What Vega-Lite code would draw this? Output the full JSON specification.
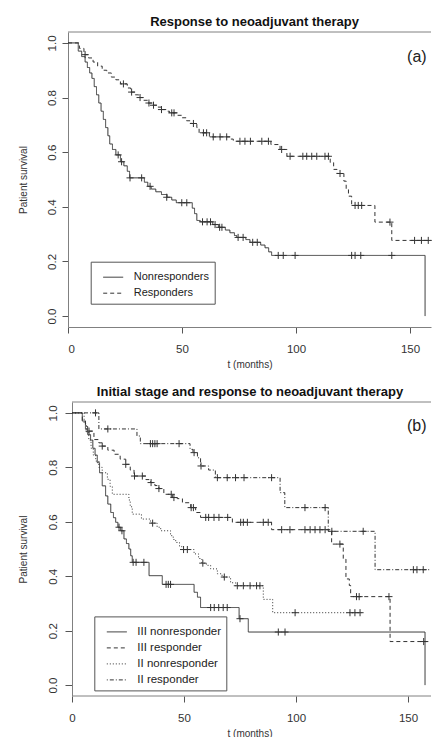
{
  "$schema": "https://vega.github.io/schema/vega-lite/v6.json",
  "background": "white",
  "padding": {"left": 17, "top": 16, "right": 0, "bottom": -2},
  "config": {
    "font": "Liberation Sans",
    "view": {"stroke": null},
    "axis": {"grid": false, "domain": true, "domainColor": "#808080", "domainWidth": 1, "tickColor": "#555", "tickSize": 6, "labelColor": "#333", "labelFontSize": 11.5, "titleFontSize": 10, "titleFontWeight": "normal", "titleColor": "#333"},
    "title": {"fontSize": 13, "fontWeight": "bold", "color": "#111", "anchor": "middle", "frame": "group", "baseline": "alphabetic", "offset": 4.5}
  },
  "align": "none",
  "spacing": 16,
  "resolve": {"scale": {"x": "independent", "y": "independent", "strokeDash": "independent"}, "legend": {"strokeDash": "independent"}},
  "datasets": {
    "topLines": [
      {"group": "Nonresponders", "t": 0, "s": 1},
      {"group": "Nonresponders", "t": 4.5, "s": 0.97},
      {"group": "Nonresponders", "t": 6, "s": 0.95},
      {"group": "Nonresponders", "t": 7.5, "s": 0.93},
      {"group": "Nonresponders", "t": 8.5, "s": 0.91},
      {"group": "Nonresponders", "t": 9.5, "s": 0.89},
      {"group": "Nonresponders", "t": 10.5, "s": 0.87},
      {"group": "Nonresponders", "t": 11.5, "s": 0.84},
      {"group": "Nonresponders", "t": 12.5, "s": 0.81},
      {"group": "Nonresponders", "t": 13.5, "s": 0.78},
      {"group": "Nonresponders", "t": 14.5, "s": 0.75},
      {"group": "Nonresponders", "t": 15.5, "s": 0.72},
      {"group": "Nonresponders", "t": 16.5, "s": 0.69},
      {"group": "Nonresponders", "t": 17.5, "s": 0.66},
      {"group": "Nonresponders", "t": 18.3, "s": 0.63},
      {"group": "Nonresponders", "t": 19.5, "s": 0.61},
      {"group": "Nonresponders", "t": 21, "s": 0.59},
      {"group": "Nonresponders", "t": 23, "s": 0.565},
      {"group": "Nonresponders", "t": 24.5, "s": 0.55},
      {"group": "Nonresponders", "t": 26, "s": 0.53},
      {"group": "Nonresponders", "t": 27, "s": 0.506},
      {"group": "Nonresponders", "t": 33.5, "s": 0.49},
      {"group": "Nonresponders", "t": 35, "s": 0.475},
      {"group": "Nonresponders", "t": 36.5, "s": 0.465},
      {"group": "Nonresponders", "t": 38.5, "s": 0.455},
      {"group": "Nonresponders", "t": 41, "s": 0.445},
      {"group": "Nonresponders", "t": 43.5, "s": 0.435},
      {"group": "Nonresponders", "t": 45.5, "s": 0.425},
      {"group": "Nonresponders", "t": 47.5, "s": 0.415},
      {"group": "Nonresponders", "t": 54.5, "s": 0.395},
      {"group": "Nonresponders", "t": 55.5, "s": 0.375},
      {"group": "Nonresponders", "t": 56.5, "s": 0.35},
      {"group": "Nonresponders", "t": 58, "s": 0.345},
      {"group": "Nonresponders", "t": 63.5, "s": 0.335},
      {"group": "Nonresponders", "t": 66, "s": 0.325},
      {"group": "Nonresponders", "t": 69, "s": 0.315},
      {"group": "Nonresponders", "t": 71, "s": 0.305},
      {"group": "Nonresponders", "t": 73, "s": 0.295},
      {"group": "Nonresponders", "t": 74, "s": 0.288},
      {"group": "Nonresponders", "t": 78, "s": 0.28},
      {"group": "Nonresponders", "t": 79.8, "s": 0.27},
      {"group": "Nonresponders", "t": 84.5, "s": 0.26},
      {"group": "Nonresponders", "t": 86.4, "s": 0.25},
      {"group": "Nonresponders", "t": 88, "s": 0.235},
      {"group": "Nonresponders", "t": 89.3, "s": 0.222},
      {"group": "Nonresponders", "t": 156.6, "s": 0},
      {"group": "Responders", "t": 0, "s": 1},
      {"group": "Responders", "t": 5, "s": 0.98},
      {"group": "Responders", "t": 7, "s": 0.957},
      {"group": "Responders", "t": 9, "s": 0.945},
      {"group": "Responders", "t": 11, "s": 0.93},
      {"group": "Responders", "t": 13, "s": 0.915},
      {"group": "Responders", "t": 15, "s": 0.9},
      {"group": "Responders", "t": 17, "s": 0.89},
      {"group": "Responders", "t": 19, "s": 0.875},
      {"group": "Responders", "t": 21, "s": 0.865},
      {"group": "Responders", "t": 23, "s": 0.85},
      {"group": "Responders", "t": 26, "s": 0.835},
      {"group": "Responders", "t": 27.5, "s": 0.82},
      {"group": "Responders", "t": 29.5, "s": 0.81},
      {"group": "Responders", "t": 31, "s": 0.8},
      {"group": "Responders", "t": 33, "s": 0.79},
      {"group": "Responders", "t": 35, "s": 0.78},
      {"group": "Responders", "t": 37, "s": 0.772},
      {"group": "Responders", "t": 39.5, "s": 0.765},
      {"group": "Responders", "t": 41, "s": 0.756},
      {"group": "Responders", "t": 43, "s": 0.75},
      {"group": "Responders", "t": 44.5, "s": 0.744},
      {"group": "Responders", "t": 48, "s": 0.735},
      {"group": "Responders", "t": 50, "s": 0.726},
      {"group": "Responders", "t": 52, "s": 0.715},
      {"group": "Responders", "t": 54, "s": 0.705},
      {"group": "Responders", "t": 56.5, "s": 0.69},
      {"group": "Responders", "t": 57.5, "s": 0.671},
      {"group": "Responders", "t": 62, "s": 0.656},
      {"group": "Responders", "t": 71, "s": 0.648},
      {"group": "Responders", "t": 72.5, "s": 0.64},
      {"group": "Responders", "t": 89, "s": 0.628},
      {"group": "Responders", "t": 93, "s": 0.61},
      {"group": "Responders", "t": 96, "s": 0.585},
      {"group": "Responders", "t": 115, "s": 0.562},
      {"group": "Responders", "t": 116.5, "s": 0.537},
      {"group": "Responders", "t": 118, "s": 0.522},
      {"group": "Responders", "t": 121, "s": 0.494},
      {"group": "Responders", "t": 122, "s": 0.465},
      {"group": "Responders", "t": 123, "s": 0.439},
      {"group": "Responders", "t": 124.4, "s": 0.405},
      {"group": "Responders", "t": 134.6, "s": 0.344},
      {"group": "Responders", "t": 142, "s": 0.277},
      {"group": "Responders", "t": 159.2, "s": 0.277}
    ],
    "topCens": [
      {"group": "Nonresponders", "t": 22, "s": 0.59},
      {"group": "Nonresponders", "t": 23.5, "s": 0.565},
      {"group": "Nonresponders", "t": 27.2, "s": 0.506},
      {"group": "Nonresponders", "t": 32.3, "s": 0.506},
      {"group": "Nonresponders", "t": 36, "s": 0.475},
      {"group": "Nonresponders", "t": 43.3, "s": 0.435},
      {"group": "Nonresponders", "t": 49.9, "s": 0.415},
      {"group": "Nonresponders", "t": 52.1, "s": 0.415},
      {"group": "Nonresponders", "t": 59, "s": 0.345},
      {"group": "Nonresponders", "t": 61, "s": 0.345},
      {"group": "Nonresponders", "t": 62.5, "s": 0.345},
      {"group": "Nonresponders", "t": 64.5, "s": 0.335},
      {"group": "Nonresponders", "t": 66.5, "s": 0.325},
      {"group": "Nonresponders", "t": 67.5, "s": 0.325},
      {"group": "Nonresponders", "t": 74.6, "s": 0.288},
      {"group": "Nonresponders", "t": 76.8, "s": 0.288},
      {"group": "Nonresponders", "t": 81, "s": 0.27},
      {"group": "Nonresponders", "t": 83, "s": 0.27},
      {"group": "Nonresponders", "t": 92.2, "s": 0.222},
      {"group": "Nonresponders", "t": 94.4, "s": 0.222},
      {"group": "Nonresponders", "t": 99.6, "s": 0.222},
      {"group": "Nonresponders", "t": 124.4, "s": 0.222},
      {"group": "Nonresponders", "t": 125.9, "s": 0.222},
      {"group": "Nonresponders", "t": 128.4, "s": 0.222},
      {"group": "Nonresponders", "t": 142, "s": 0.222},
      {"group": "Responders", "t": 7.5, "s": 0.957},
      {"group": "Responders", "t": 24.3, "s": 0.85},
      {"group": "Responders", "t": 27.9, "s": 0.82},
      {"group": "Responders", "t": 31.6, "s": 0.8},
      {"group": "Responders", "t": 35.5, "s": 0.78},
      {"group": "Responders", "t": 37.5, "s": 0.772},
      {"group": "Responders", "t": 41, "s": 0.756},
      {"group": "Responders", "t": 45.5, "s": 0.744},
      {"group": "Responders", "t": 46.5, "s": 0.744},
      {"group": "Responders", "t": 55, "s": 0.705},
      {"group": "Responders", "t": 59.4, "s": 0.671},
      {"group": "Responders", "t": 60.8, "s": 0.671},
      {"group": "Responders", "t": 63.7, "s": 0.656},
      {"group": "Responders", "t": 66.7, "s": 0.656},
      {"group": "Responders", "t": 69.6, "s": 0.656},
      {"group": "Responders", "t": 75.4, "s": 0.64},
      {"group": "Responders", "t": 77.6, "s": 0.64},
      {"group": "Responders", "t": 80, "s": 0.64},
      {"group": "Responders", "t": 85, "s": 0.64},
      {"group": "Responders", "t": 87.9, "s": 0.64},
      {"group": "Responders", "t": 93.7, "s": 0.61},
      {"group": "Responders", "t": 97.4, "s": 0.585},
      {"group": "Responders", "t": 103, "s": 0.585},
      {"group": "Responders", "t": 104.7, "s": 0.585},
      {"group": "Responders", "t": 106.9, "s": 0.585},
      {"group": "Responders", "t": 109.1, "s": 0.585},
      {"group": "Responders", "t": 112.7, "s": 0.585},
      {"group": "Responders", "t": 114.2, "s": 0.585},
      {"group": "Responders", "t": 119.3, "s": 0.522},
      {"group": "Responders", "t": 125.9, "s": 0.405},
      {"group": "Responders", "t": 127.3, "s": 0.405},
      {"group": "Responders", "t": 128.8, "s": 0.405},
      {"group": "Responders", "t": 141.2, "s": 0.344},
      {"group": "Responders", "t": 152, "s": 0.277},
      {"group": "Responders", "t": 155, "s": 0.277},
      {"group": "Responders", "t": 158, "s": 0.277}
    ],
    "botLines": [
      {"group": "III nonresponder", "t": 0, "s": 1},
      {"group": "III nonresponder", "t": 4.6, "s": 0.97},
      {"group": "III nonresponder", "t": 6, "s": 0.94},
      {"group": "III nonresponder", "t": 7, "s": 0.92},
      {"group": "III nonresponder", "t": 8.3, "s": 0.9},
      {"group": "III nonresponder", "t": 9.3, "s": 0.87},
      {"group": "III nonresponder", "t": 10.3, "s": 0.845},
      {"group": "III nonresponder", "t": 11.3, "s": 0.817},
      {"group": "III nonresponder", "t": 12.3, "s": 0.78},
      {"group": "III nonresponder", "t": 13.5, "s": 0.732},
      {"group": "III nonresponder", "t": 15, "s": 0.695},
      {"group": "III nonresponder", "t": 16, "s": 0.665},
      {"group": "III nonresponder", "t": 17.3, "s": 0.634},
      {"group": "III nonresponder", "t": 18.5, "s": 0.615},
      {"group": "III nonresponder", "t": 19.5, "s": 0.598},
      {"group": "III nonresponder", "t": 20.5, "s": 0.58},
      {"group": "III nonresponder", "t": 21.7, "s": 0.567},
      {"group": "III nonresponder", "t": 23.2, "s": 0.537},
      {"group": "III nonresponder", "t": 24.3, "s": 0.52},
      {"group": "III nonresponder", "t": 25.4, "s": 0.5},
      {"group": "III nonresponder", "t": 26.2, "s": 0.475},
      {"group": "III nonresponder", "t": 26.9, "s": 0.451},
      {"group": "III nonresponder", "t": 34.4, "s": 0.402},
      {"group": "III nonresponder", "t": 40.3, "s": 0.37},
      {"group": "III nonresponder", "t": 54.5, "s": 0.341},
      {"group": "III nonresponder", "t": 56, "s": 0.323},
      {"group": "III nonresponder", "t": 57.4, "s": 0.285},
      {"group": "III nonresponder", "t": 74.6, "s": 0.244},
      {"group": "III nonresponder", "t": 78.7, "s": 0.195},
      {"group": "III nonresponder", "t": 157.6, "s": 0},
      {"group": "III responder", "t": 0, "s": 1},
      {"group": "III responder", "t": 4.6, "s": 0.97},
      {"group": "III responder", "t": 6, "s": 0.95},
      {"group": "III responder", "t": 7, "s": 0.933},
      {"group": "III responder", "t": 9.8, "s": 0.902},
      {"group": "III responder", "t": 12, "s": 0.89},
      {"group": "III responder", "t": 13.5, "s": 0.878},
      {"group": "III responder", "t": 16, "s": 0.863},
      {"group": "III responder", "t": 18.8, "s": 0.848},
      {"group": "III responder", "t": 21.5, "s": 0.83},
      {"group": "III responder", "t": 24, "s": 0.811},
      {"group": "III responder", "t": 26, "s": 0.79},
      {"group": "III responder", "t": 27.7, "s": 0.768},
      {"group": "III responder", "t": 33, "s": 0.755},
      {"group": "III responder", "t": 35.1, "s": 0.744},
      {"group": "III responder", "t": 37, "s": 0.733},
      {"group": "III responder", "t": 38.8, "s": 0.722},
      {"group": "III responder", "t": 41, "s": 0.701},
      {"group": "III responder", "t": 44.8, "s": 0.689},
      {"group": "III responder", "t": 47, "s": 0.685},
      {"group": "III responder", "t": 49.3, "s": 0.67},
      {"group": "III responder", "t": 53, "s": 0.652},
      {"group": "III responder", "t": 55.2, "s": 0.634},
      {"group": "III responder", "t": 57.4, "s": 0.616},
      {"group": "III responder", "t": 71.6, "s": 0.598},
      {"group": "III responder", "t": 89.1, "s": 0.571},
      {"group": "III responder", "t": 115.9, "s": 0.518},
      {"group": "III responder", "t": 121.1, "s": 0.463},
      {"group": "III responder", "t": 122.3, "s": 0.39},
      {"group": "III responder", "t": 123.8, "s": 0.366},
      {"group": "III responder", "t": 124.4, "s": 0.325},
      {"group": "III responder", "t": 142, "s": 0.16},
      {"group": "III responder", "t": 160.2, "s": 0.16},
      {"group": "II nonresponder", "t": 0, "s": 1},
      {"group": "II nonresponder", "t": 5.4, "s": 0.96},
      {"group": "II nonresponder", "t": 6.5, "s": 0.93},
      {"group": "II nonresponder", "t": 7.5, "s": 0.9},
      {"group": "II nonresponder", "t": 8.5, "s": 0.87},
      {"group": "II nonresponder", "t": 9.5, "s": 0.845},
      {"group": "II nonresponder", "t": 10.6, "s": 0.823},
      {"group": "II nonresponder", "t": 12, "s": 0.8},
      {"group": "II nonresponder", "t": 13.5, "s": 0.78},
      {"group": "II nonresponder", "t": 15.8, "s": 0.756},
      {"group": "II nonresponder", "t": 17, "s": 0.73},
      {"group": "II nonresponder", "t": 18, "s": 0.701},
      {"group": "II nonresponder", "t": 25.4, "s": 0.68},
      {"group": "II nonresponder", "t": 26, "s": 0.655},
      {"group": "II nonresponder", "t": 26.9, "s": 0.628},
      {"group": "II nonresponder", "t": 31, "s": 0.61},
      {"group": "II nonresponder", "t": 35, "s": 0.595},
      {"group": "II nonresponder", "t": 38, "s": 0.58},
      {"group": "II nonresponder", "t": 39.6, "s": 0.567},
      {"group": "II nonresponder", "t": 44, "s": 0.549},
      {"group": "II nonresponder", "t": 45.2, "s": 0.535},
      {"group": "II nonresponder", "t": 46.3, "s": 0.524},
      {"group": "II nonresponder", "t": 48, "s": 0.51},
      {"group": "II nonresponder", "t": 49, "s": 0.498},
      {"group": "II nonresponder", "t": 54.5, "s": 0.482},
      {"group": "II nonresponder", "t": 56.5, "s": 0.465},
      {"group": "II nonresponder", "t": 58, "s": 0.448},
      {"group": "II nonresponder", "t": 60, "s": 0.44},
      {"group": "II nonresponder", "t": 61.9, "s": 0.427},
      {"group": "II nonresponder", "t": 64.9, "s": 0.409},
      {"group": "II nonresponder", "t": 67, "s": 0.397},
      {"group": "II nonresponder", "t": 70.8, "s": 0.376},
      {"group": "II nonresponder", "t": 73, "s": 0.365},
      {"group": "II nonresponder", "t": 85.4, "s": 0.315},
      {"group": "II nonresponder", "t": 89.6, "s": 0.266},
      {"group": "II nonresponder", "t": 129.3, "s": 0.266},
      {"group": "II responder", "t": 0, "s": 1},
      {"group": "II responder", "t": 12, "s": 0.941},
      {"group": "II responder", "t": 29, "s": 0.915},
      {"group": "II responder", "t": 30.5, "s": 0.887},
      {"group": "II responder", "t": 52.7, "s": 0.866},
      {"group": "II responder", "t": 54, "s": 0.854},
      {"group": "II responder", "t": 56, "s": 0.835},
      {"group": "II responder", "t": 57.4, "s": 0.805},
      {"group": "II responder", "t": 61, "s": 0.79},
      {"group": "II responder", "t": 64, "s": 0.762},
      {"group": "II responder", "t": 92.9, "s": 0.707},
      {"group": "II responder", "t": 95, "s": 0.652},
      {"group": "II responder", "t": 114.4, "s": 0.565},
      {"group": "II responder", "t": 135.3, "s": 0.424},
      {"group": "II responder", "t": 160.2, "s": 0.424}
    ],
    "botCens": [
      {"group": "III nonresponder", "t": 21, "s": 0.58},
      {"group": "III nonresponder", "t": 22.3, "s": 0.567},
      {"group": "III nonresponder", "t": 27.3, "s": 0.451},
      {"group": "III nonresponder", "t": 28.6, "s": 0.451},
      {"group": "III nonresponder", "t": 32.1, "s": 0.451},
      {"group": "III nonresponder", "t": 42, "s": 0.37},
      {"group": "III nonresponder", "t": 43, "s": 0.37},
      {"group": "III nonresponder", "t": 44, "s": 0.37},
      {"group": "III nonresponder", "t": 61.9, "s": 0.285},
      {"group": "III nonresponder", "t": 63.5, "s": 0.285},
      {"group": "III nonresponder", "t": 65.5, "s": 0.285},
      {"group": "III nonresponder", "t": 67.5, "s": 0.285},
      {"group": "III nonresponder", "t": 69.3, "s": 0.285},
      {"group": "III nonresponder", "t": 75, "s": 0.244},
      {"group": "III nonresponder", "t": 92.1, "s": 0.195},
      {"group": "III nonresponder", "t": 95.1, "s": 0.195},
      {"group": "III responder", "t": 7.6, "s": 0.933},
      {"group": "III responder", "t": 13.5, "s": 0.878},
      {"group": "III responder", "t": 24, "s": 0.811},
      {"group": "III responder", "t": 27.9, "s": 0.768},
      {"group": "III responder", "t": 31.4, "s": 0.768},
      {"group": "III responder", "t": 35.3, "s": 0.744},
      {"group": "III responder", "t": 38.8, "s": 0.722},
      {"group": "III responder", "t": 44.3, "s": 0.701},
      {"group": "III responder", "t": 45.5, "s": 0.689},
      {"group": "III responder", "t": 53.2, "s": 0.652},
      {"group": "III responder", "t": 54.2, "s": 0.652},
      {"group": "III responder", "t": 59.7, "s": 0.616},
      {"group": "III responder", "t": 61, "s": 0.616},
      {"group": "III responder", "t": 63.4, "s": 0.616},
      {"group": "III responder", "t": 65.6, "s": 0.616},
      {"group": "III responder", "t": 69.5, "s": 0.616},
      {"group": "III responder", "t": 75.3, "s": 0.598},
      {"group": "III responder", "t": 76.5, "s": 0.598},
      {"group": "III responder", "t": 78.3, "s": 0.598},
      {"group": "III responder", "t": 85.4, "s": 0.598},
      {"group": "III responder", "t": 87.6, "s": 0.598},
      {"group": "III responder", "t": 93.6, "s": 0.571},
      {"group": "III responder", "t": 97.3, "s": 0.571},
      {"group": "III responder", "t": 104, "s": 0.571},
      {"group": "III responder", "t": 106.3, "s": 0.571},
      {"group": "III responder", "t": 108.5, "s": 0.571},
      {"group": "III responder", "t": 110.7, "s": 0.571},
      {"group": "III responder", "t": 113, "s": 0.571},
      {"group": "III responder", "t": 119.6, "s": 0.518},
      {"group": "III responder", "t": 127, "s": 0.325},
      {"group": "III responder", "t": 128.2, "s": 0.325},
      {"group": "III responder", "t": 141.5, "s": 0.325},
      {"group": "III responder", "t": 157, "s": 0.16},
      {"group": "II nonresponder", "t": 36, "s": 0.595},
      {"group": "II nonresponder", "t": 49.8, "s": 0.498},
      {"group": "II nonresponder", "t": 51.5, "s": 0.498},
      {"group": "II nonresponder", "t": 58.4, "s": 0.448},
      {"group": "II nonresponder", "t": 68, "s": 0.397},
      {"group": "II nonresponder", "t": 73.8, "s": 0.365},
      {"group": "II nonresponder", "t": 76.5, "s": 0.365},
      {"group": "II nonresponder", "t": 79.5, "s": 0.365},
      {"group": "II nonresponder", "t": 82.4, "s": 0.365},
      {"group": "II nonresponder", "t": 83.9, "s": 0.365},
      {"group": "II nonresponder", "t": 99.6, "s": 0.266},
      {"group": "II nonresponder", "t": 124.1, "s": 0.266},
      {"group": "II nonresponder", "t": 126.3, "s": 0.266},
      {"group": "II nonresponder", "t": 128.6, "s": 0.266},
      {"group": "II responder", "t": 10.5, "s": 1},
      {"group": "II responder", "t": 16, "s": 0.941},
      {"group": "II responder", "t": 35, "s": 0.887},
      {"group": "II responder", "t": 36, "s": 0.887},
      {"group": "II responder", "t": 37, "s": 0.887},
      {"group": "II responder", "t": 38, "s": 0.887},
      {"group": "II responder", "t": 47.8, "s": 0.887},
      {"group": "II responder", "t": 54.5, "s": 0.854},
      {"group": "II responder", "t": 57.6, "s": 0.805},
      {"group": "II responder", "t": 64.9, "s": 0.762},
      {"group": "II responder", "t": 69.3, "s": 0.762},
      {"group": "II responder", "t": 73, "s": 0.762},
      {"group": "II responder", "t": 76.8, "s": 0.762},
      {"group": "II responder", "t": 89.1, "s": 0.762},
      {"group": "II responder", "t": 104, "s": 0.652},
      {"group": "II responder", "t": 113, "s": 0.652},
      {"group": "II responder", "t": 116, "s": 0.565},
      {"group": "II responder", "t": 130, "s": 0.565},
      {"group": "II responder", "t": 152.4, "s": 0.424},
      {"group": "II responder", "t": 154, "s": 0.424},
      {"group": "II responder", "t": 156.8, "s": 0.424}
    ]
  },
  "vconcat": [
    {
      "width": 363,
      "height": 295,
      "title": {"text": "Response to neoadjuvant therapy", "dx": 5, "dy": 2},
      "layer": [
        {
          "data": {"values": [{"top": 1.04}]},
          "mark": {"type": "rule", "color": "#808080", "strokeWidth": 1},
          "encoding": {"y": {"field": "top", "type": "quantitative"}}
        },
        {
          "data": {"name": "topLines"},
          "mark": {"type": "line", "interpolate": "step-after", "strokeWidth": 1, "color": "#333"},
          "encoding": {
            "x": {"field": "t", "type": "quantitative", "scale": {"domain": [0, 159.2], "nice": false, "zero": false}, "axis": {"values": [0, 50, 100, 150], "title": "t (months)", "labelPadding": 10, "titlePadding": 5}},
            "y": {"field": "s", "type": "quantitative", "scale": {"domain": [-0.04, 1.04], "nice": false, "zero": false}, "axis": {"values": [0, 0.2, 0.4, 0.6, 0.8, 1.0], "format": ".1f", "title": "Patient survival", "labelAngle": -90, "labelAlign": "center", "labelBaseline": "bottom", "labelPadding": 5, "titlePadding": 18}},
            "strokeDash": {"field": "group", "type": "nominal", "scale": {"domain": ["Nonresponders", "Responders"], "range": [[1, 0], [4, 3]]},
              "legend": {"orient": "none", "legendX": 22.7, "legendY": 229.7, "title": null, "symbolType": "stroke", "symbolSize": 400, "symbolStrokeWidth": 1, "symbolStrokeColor": "#333", "symbolOffset": 7, "strokeColor": "#555", "fillColor": "white", "padding": 5, "labelFontSize": 11, "labelOffset": 10, "rowPadding": -9, "labelColor": "#222"}}
          }
        },
        {
          "data": {"name": "topCens"},
          "mark": {"type": "point", "shape": "M-1,0H1M0,-1V1", "size": 50, "filled": false, "strokeWidth": 1, "color": "#333", "opacity": 1},
          "encoding": {"x": {"field": "t", "type": "quantitative"}, "y": {"field": "s", "type": "quantitative"}}
        },
        {
          "data": {"values": [{"t": 153, "s": 0.95, "label": "(a)"}]},
          "mark": {"type": "text", "fontSize": 16, "color": "#222", "align": "center", "baseline": "middle"},
          "encoding": {"x": {"field": "t", "type": "quantitative"}, "y": {"field": "s", "type": "quantitative"}, "text": {"field": "label"}}
        }
      ]
    },
    {
      "width": 363,
      "height": 294,
      "title": {"text": "Initial stage and response to neoadjuvant therapy", "dx": 0.5, "dy": 2},
      "layer": [
        {
          "data": {"values": [{"a": 0, "b": 160.27, "top": 1.04}, {"a": 0, "b": 160.27, "top": -0.04}]},
          "mark": {"type": "rule", "color": "#808080", "strokeWidth": 1},
          "encoding": {"x": {"field": "a", "type": "quantitative"}, "x2": {"field": "b"}, "y": {"field": "top", "type": "quantitative"}}
        },
        {
          "data": {"name": "botLines"},
          "mark": {"type": "line", "interpolate": "step-after", "strokeWidth": 1, "color": "#333"},
          "encoding": {
            "x": {"field": "t", "type": "quantitative", "scale": {"domain": [-1.786, 160.27], "nice": false, "zero": false}, "axis": {"values": [0, 50, 100, 150], "title": "t (months)", "domain": false, "labelPadding": 10, "titlePadding": 5}},
            "y": {"field": "s", "type": "quantitative", "scale": {"domain": [-0.04, 1.04], "nice": false, "zero": false}, "axis": {"values": [0, 0.2, 0.4, 0.6, 0.8, 1.0], "format": ".1f", "title": "Patient survival", "offset": -4, "tickSize": 7, "labelAngle": -90, "labelAlign": "center", "labelBaseline": "bottom", "labelPadding": 7, "titlePadding": 19}},
            "strokeDash": {"field": "group", "type": "nominal", "scale": {"domain": ["III nonresponder", "III responder", "II nonresponder", "II responder"], "range": [[1, 0], [4, 3], [1, 2], [1, 2, 4, 2]]},
              "legend": {"orient": "none", "legendX": 26.3, "legendY": 214.4, "title": null, "symbolType": "stroke", "symbolSize": 400, "symbolStrokeWidth": 1, "symbolStrokeColor": "#333", "symbolOffset": 7, "strokeColor": "#555", "fillColor": "white", "padding": 5, "labelFontSize": 11.5, "labelOffset": 10, "rowPadding": -9, "labelColor": "#222"}}
          }
        },
        {
          "data": {"name": "botCens"},
          "mark": {"type": "point", "shape": "M-1,0H1M0,-1V1", "size": 50, "filled": false, "strokeWidth": 1, "color": "#333", "opacity": 1},
          "encoding": {"x": {"field": "t", "type": "quantitative"}, "y": {"field": "s", "type": "quantitative"}}
        },
        {
          "data": {"values": [{"t": 153.9, "s": 0.951, "label": "(b)"}]},
          "mark": {"type": "text", "fontSize": 16, "color": "#222", "align": "center", "baseline": "middle"},
          "encoding": {"x": {"field": "t", "type": "quantitative"}, "y": {"field": "s", "type": "quantitative"}, "text": {"field": "label"}}
        }
      ]
    }
  ]
}
